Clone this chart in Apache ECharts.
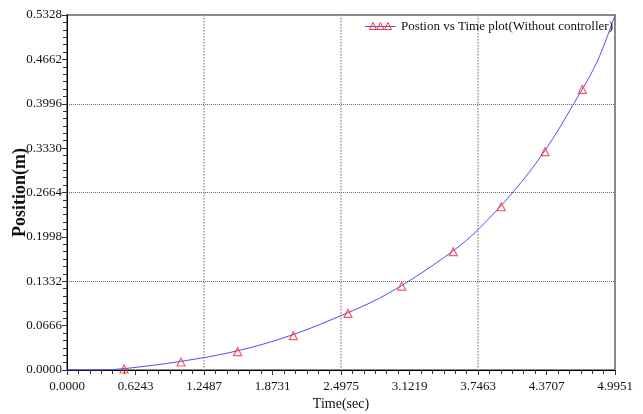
<!DOCTYPE html>
<html>
<head>
<meta charset="utf-8">
<script src="https://cdn.jsdelivr.net/npm/echarts@6/dist/echarts.min.js"></script>
<style>html,body{margin:0;padding:0;background:#fff;}#c{width:643px;height:414px;}</style>
</head>
<body>
<div id="c"></div>
<script>
const seriesName = 'Postion vs Time plot(Without controller)';
const xTickLabels = ['0.0000','0.6243','1.2487','1.8731','2.4975','3.1219','3.7463','4.3707','4.9951'];
const yTickLabels = ['0.0000','0.0666','0.1332','0.1998','0.2664','0.3330','0.3996','0.4662','0.5328'];
const curveTime = [0, 0.30, 0.52, 1.04, 1.56, 2.06, 2.56, 2.85, 3.16, 3.52, 3.73, 4.07, 4.36, 4.62, 4.83, 4.9951];
const curvePos  = [0, 0, 0.002, 0.013, 0.029, 0.053, 0.086, 0.108, 0.138, 0.179, 0.208, 0.268, 0.330, 0.400, 0.462, 0.5328];
const markerTime = [0.520, 1.039, 1.556, 2.063, 2.561, 3.051, 3.521, 3.958, 4.357, 4.697];
const markerPos  = [0.0015, 0.012, 0.0275, 0.0515, 0.085, 0.126, 0.1776, 0.245, 0.3277, 0.4213];

const xMax = 4.9951, yMax = 0.5328;
const xStep = xMax / 8, yStep = yMax / 8;
const font = 'Liberation Serif';

const iconSvg = "<svg xmlns='http://www.w3.org/2000/svg' width='31' height='10'>" +
  "<line x1='0' y1='5' x2='31' y2='5' stroke='#4d4dff' stroke-width='1'/>" +
  "<path d='M8 1 L11.5 8 L4.5 8 Z M15.5 1 L19 8 L12 8 Z M23 1 L26.5 8 L19.5 8 Z' fill='none' stroke='#ff3030' stroke-width='1'/></svg>";
const iconUrl = 'image://data:image/svg+xml;charset=utf-8,' + encodeURIComponent(iconSvg);

const chart = echarts.init(document.getElementById('c'), null, {renderer: 'canvas'});
const labelStyle = {color: '#111', fontFamily: font, fontSize: 13};
chart.setOption({
  animation: false,
  backgroundColor: '#fff',
  grid: {left: 67, right: 28, top: 15, bottom: 44, containLabel: false, outerBoundsMode: 'none',
    show: true, borderColor: '#8a8a8a', borderWidth: 2, backgroundColor: 'transparent'},
  legend: {
    right: 30, top: 20, padding: 0, itemWidth: 31, itemHeight: 10, itemGap: 5,
    data: [{name: seriesName, icon: iconUrl}],
    textStyle: {color: '#111', fontFamily: font, fontSize: 13, padding: [0,0,0,0]}
  },
  xAxis: [{
    type: 'value', min: 0, max: xMax, interval: xStep,
    name: 'Time(sec)', nameLocation: 'middle', nameGap: 27, nameMoveOverlap: false,
    nameTextStyle: {color: '#111', fontFamily: font, fontSize: 14},
    axisLine: {lineStyle: {color: '#000', width: 1}},
    axisTick: {show: true, length: 5, lineStyle: {color: '#333'}},
    minorTick: {show: true, splitNumber: 6, length: 4, lineStyle: {color: '#333'}},
    axisLabel: {...labelStyle, margin: 10, showMinLabel: true, showMaxLabel: true,
      formatter: v => xTickLabels[Math.round(v / xStep)] || ''},
    splitLine: {show: false}
  }, {
    type: 'value', min: 0, max: xMax, interval: xMax / 4, position: 'bottom',
    axisLine: {show: false}, axisTick: {show: false}, axisLabel: {show: false},
    splitLine: {show: true, showMinLine: false, showMaxLine: false, lineStyle: {color: '#9a9a9a', type: 'dotted', width: 1.5}}
  }],
  yAxis: [{
    type: 'value', min: 0, max: yMax, interval: yStep,
    name: 'Position(m)', nameLocation: 'middle', nameGap: 38, nameMoveOverlap: false,
    nameTextStyle: {color: '#111', fontFamily: font, fontSize: 18, fontWeight: 'bold'},
    axisLine: {show: true, lineStyle: {color: '#000', width: 1}},
    axisTick: {show: true, length: 5, lineStyle: {color: '#333'}},
    minorTick: {show: true, splitNumber: 6, length: 4, lineStyle: {color: '#333'}},
    axisLabel: {...labelStyle, margin: 5, showMinLabel: true, showMaxLabel: true,
      formatter: v => yTickLabels[Math.round(v / yStep)] || ''},
    splitLine: {show: false}
  }, {
    type: 'value', min: 0, max: yMax, interval: yMax / 4, position: 'left',
    axisLine: {show: false}, axisTick: {show: false}, axisLabel: {show: false},
    splitLine: {show: true, showMinLine: false, showMaxLine: false, lineStyle: {color: '#666', type: 'dotted', width: 1}}
  }],
  series: [{
    name: seriesName, type: 'line', xAxisIndex: 0, yAxisIndex: 0,
    data: curveTime.map((t, i) => [t, curvePos[i]]),
    smooth: 0.35, showSymbol: false, symbol: 'none',
    lineStyle: {color: '#4d4dff', width: 1}, itemStyle: {color: '#4d4dff'}, z: 3
  }, {
    name: seriesName, type: 'scatter', xAxisIndex: 0, yAxisIndex: 0,
    data: markerTime.map((t, i) => [t, markerPos[i]]),
    symbol: 'triangle', symbolSize: [8, 8],
    itemStyle: {color: 'rgba(255,255,255,0)', borderColor: '#ff3030', borderWidth: 1.2}, z: 4
  }]
});
</script>
</body>
</html>
